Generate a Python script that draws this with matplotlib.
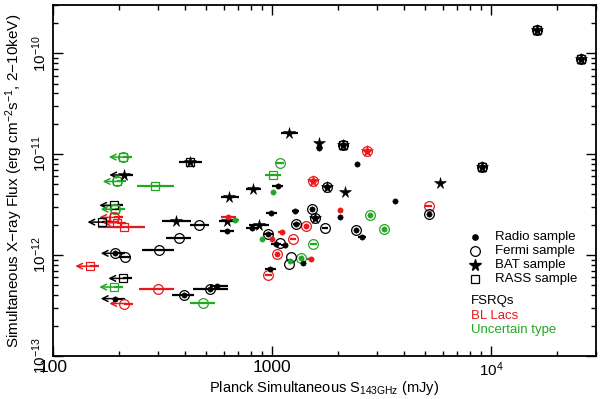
import matplotlib
matplotlib.use('Agg')
import matplotlib.pyplot as plt
from matplotlib.ticker import FixedLocator, NullFormatter

plt.rcParams['font.family'] = ['Liberation Sans', 'DejaVu Sans']
plt.rcParams['mathtext.fontset'] = 'custom'
plt.rcParams['mathtext.rm'] = 'Liberation Sans'
plt.rcParams['mathtext.it'] = 'Liberation Sans:italic'
plt.rcParams['mathtext.bf'] = 'Liberation Sans:bold'

# ---------------- data ----------------
# Planck 143 GHz flux (mJy), its error range, X-ray flux (erg cm^-2 s^-1)
s143 = [16200, 25500, 9100, 5840, 2100, 1640, 1630, 1190, 2710, 2440,
        1540, 1776, 2150, 3620, 2790, 3240, 5180, 5180, 2570, 2400,
        1516, 2037, 2037, 1570, 1740, 1431, 1537, 1500, 1387, 1350,
        1215, 1190, 1203, 1054, 1272, 1288, 984, 1105, 1245, 954,
        895, 1000, 1038, 1082, 1141, 977, 959, 870, 810, 1060,
        1005, 1086, 1005, 819, 636, 630, 619, 677, 624, 523,
        561, 396, 482, 301, 306, 375, 466, 366, 421, 293,
        209, 210, 196, 189, 192, 167, 189, 196, 210, 192,
        212, 147, 208, 189, 192, 210]
s143_lo = [16200, 25500, 9100, 5840, 2100, 1640, 1630, 1094, 2710, 2440,
           1540, 1776, 2150, 3620, 2790, 3240, 5000, 5180, 2470, 2400,
           1516, 2037, 2037, 1570, 1680, 1431, 1480, 1445, 1387, 1350,
           1215, 1190, 1203, 1054, 1225, 1240, 934, 1065, 1200, 905,
           895, 1000, 984, 1082, 1100, 924, 925, 781, 756, 1000,
           1005, 1045, 924, 756, 586, 586, 569, 652, 581, 437,
           523, 349, 421, 248, 255, 329, 421, 314, 375, 242,
           209, 210, 196, 189, 192, 167, 189, 196, 161, 192,
           200, 147, 208, 189, 192, 210]
s143_hi = [16200, 25500, 9100, 5840, 2100, 1640, 1630, 1309, 2710, 2440,
           1540, 1776, 2150, 3620, 2790, 3240, 5370, 5180, 2670, 2400,
           1516, 2037, 2037, 1570, 1800, 1431, 1595, 1555, 1387, 1350,
           1215, 1190, 1203, 1054, 1320, 1335, 1048, 1145, 1290, 1005,
           895, 1000, 1094, 1082, 1185, 1038, 995, 964, 868, 1125,
           1005, 1130, 1094, 893, 705, 681, 688, 703, 667, 626,
           626, 439, 547, 355, 358, 424, 514, 424, 479, 355,
           230, 232, 216, 208, 212, 184, 208, 216, 264, 212,
           226, 162, 229, 208, 212, 232]
fx = [1.70e-10, 8.8e-11, 7.5e-12, 5.2e-12, 1.24e-11, 1.28e-11, 1.15e-11, 1.63e-11, 1.07e-11, 7.97e-12,
      5.42e-12, 4.73e-12, 4.18e-12, 3.44e-12, 2.48e-12, 1.80e-12, 3.04e-12, 2.53e-12, 1.52e-12, 1.78e-12,
      2.85e-12, 2.81e-12, 2.40e-12, 2.32e-12, 1.87e-12, 1.95e-12, 1.28e-12, 9.24e-13, 8.34e-13, 9.34e-13,
      9.51e-13, 8.06e-13, 8.69e-13, 1.03e-12, 2.74e-12, 2.02e-12, 2.58e-12, 1.70e-12, 1.45e-12, 1.61e-12,
      1.44e-12, 1.45e-12, 1.30e-12, 1.33e-12, 1.25e-12, 7.28e-13, 6.28e-13, 2.00e-12, 1.85e-12, 4.81e-12,
      4.22e-12, 8.10e-12, 6.21e-12, 4.55e-12, 3.77e-12, 2.40e-12, 2.17e-12, 2.21e-12, 1.72e-12, 4.65e-13,
      4.90e-13, 3.99e-13, 3.33e-13, 4.65e-13, 1.13e-12, 1.48e-12, 2.00e-12, 2.15e-12, 8.4e-12, 4.79e-12,
      9.34e-12, 6.21e-12, 5.36e-12, 3.11e-12, 2.84e-12, 2.12e-12, 2.36e-12, 2.09e-12, 1.91e-12, 1.04e-12,
      9.51e-13, 7.76e-13, 5.87e-13, 4.82e-13, 3.70e-13, 3.31e-13]
# F = FSRQ, B = BL Lac, U = uncertain type
src_class = ['F', 'F', 'F', 'F', 'F', 'F', 'F', 'F', 'B', 'F',
             'B', 'F', 'F', 'F', 'U', 'U', 'B', 'F', 'F', 'F',
             'F', 'B', 'F', 'F', 'F', 'B', 'U', 'B', 'F', 'U',
             'F', 'F', 'U', 'B', 'F', 'F', 'F', 'B', 'B', 'F',
             'U', 'B', 'F', 'F', 'F', 'F', 'B', 'F', 'F', 'F',
             'U', 'U', 'U', 'F', 'F', 'B', 'F', 'U', 'F', 'F',
             'F', 'F', 'U', 'B', 'F', 'F', 'F', 'F', 'F', 'U',
             'U', 'F', 'U', 'F', 'U', 'F', 'B', 'B', 'B', 'F',
             'F', 'B', 'F', 'U', 'F', 'B']
# samples: R = Radio, F = Fermi, B = BAT, S = RASS
src_samples = ['RFBS', 'RFBS', 'RFBS', 'B', 'RFBS', 'B', 'R', 'B', 'RFB', 'R',
               'RFB', 'RFB', 'B', 'R', 'RF', 'RF', 'F', 'RF', 'R', 'RF',
               'RF', 'R', 'R', 'RFB', 'F', 'RF', 'F', 'R', 'R', 'RF',
               'F', 'F', 'R', 'RF', 'R', 'RF', 'R', 'R', 'F', 'RF',
               'R', 'R', 'R', 'F', 'R', 'R', 'F', 'B', 'R', 'R',
               'R', 'F', 'S', 'B', 'B', 'R', 'B', 'R', 'R', 'RF',
               'R', 'RF', 'F', 'F', 'F', 'F', 'F', 'B', 'BS', 'S',
               'SF', 'B', 'SF', 'S', 'SF', 'S', 'SF', 'S', 'S', 'RF',
               'F', 'S', 'S', 'S', 'R', 'F']
# 1 = Planck upper limit
upper_limit = [0] * 70 + [1, 1, 1, 1, 1, 1, 1, 1, 0, 1,
                          0, 1, 1, 1, 1, 1]

class_colors = {'F': 'black', 'B': '#e8191c', 'U': '#22a822'}

# ---------------- figure ----------------
fig = plt.figure(figsize=(6.0, 3.99), dpi=100)
ax = fig.add_axes([0.0883, 0.1078, 0.905, 0.8797])
ax.set_xscale('log')
ax.set_yscale('log')
ax.set_xlim(100, 30000)
ax.set_ylim(1e-13, 3e-10)

for i in range(len(s143)):
    c = class_colors[src_class[i]]
    x, y = s143[i], fx[i]
    if s143_hi[i] > s143_lo[i]:
        ax.plot([s143_lo[i], s143_hi[i]], [y, y], color=c, lw=1.6, zorder=2,
                solid_capstyle='butt')
    if upper_limit[i]:
        ax.annotate('', xy=(x * 0.86, y), xytext=(x * 1.02, y),
                    arrowprops=dict(arrowstyle='->', color=c, lw=1.1,
                                    mutation_scale=10, shrinkA=0, shrinkB=0),
                    zorder=3)
    smp = src_samples[i]
    if 'S' in smp:
        ax.plot(x, y, marker='s', ms=6, mfc='none', mec=c, mew=0.9, zorder=4)
    if 'F' in smp:
        ax.plot(x, y, marker='o', ms=7, mfc='none', mec=c, mew=0.9, zorder=5)
    if 'B' in smp:
        ax.plot(x, y, marker='*', ms=8.5, mfc=c, mec=c, mew=0.4, zorder=6)
    if 'R' in smp:
        ax.plot(x, y, marker='o', ms=3.8, mfc=c, mec=c, mew=0.4, zorder=7)

# ticks
ax.tick_params(which='both', direction='in', top=True, right=True, width=1.0)
ax.tick_params(which='major', length=7)
ax.tick_params(which='minor', length=3.5)
ax.xaxis.set_major_locator(FixedLocator([100, 1000, 10000]))
ax.set_xticklabels(['100', '1000', r'$10^4$'])
xlabs = ax.get_xticklabels()
xlabs[0].set_fontsize(12.5)
xlabs[1].set_fontsize(12.5)
xlabs[2].set_fontsize(11)
ax.xaxis.set_minor_locator(FixedLocator([m * 10 ** e for e in (2, 3, 4) for m in range(2, 10)]))
ax.xaxis.set_minor_formatter(NullFormatter())
ax.yaxis.set_major_locator(FixedLocator([1e-13, 1e-12, 1e-11, 1e-10]))
ax.set_yticklabels([r'$10^{-13}$', r'$10^{-12}$', r'$10^{-11}$', r'$10^{-10}$'],
                   rotation=90, va='center', fontsize=11)
ax.yaxis.set_minor_locator(FixedLocator([m * 10 ** e for e in (-13, -12, -11, -10) for m in range(2, 10)]))
ax.yaxis.set_minor_formatter(NullFormatter())
ax.tick_params(axis='x', pad=3)
ax.tick_params(axis='y', pad=3)
for sp in ax.spines.values():
    sp.set_linewidth(1.3)

ax.set_xlabel(r'Planck Simultaneous S$_{\mathrm{143GHz}}$ (mJy)', fontsize=10.5, labelpad=0)
ax.set_ylabel(r'Simultaneous X$-$ray Flux (erg cm$^{-2}$s$^{-1}$, 2$-$10keV)',
              fontsize=11, labelpad=4)

# legend (drawn manually)
leg_labels = ['Radio sample', 'Fermi sample', 'BAT sample', 'RASS sample']
leg_y = [0.339, 0.299, 0.259, 0.218]
ax.plot(0.777, leg_y[0], transform=ax.transAxes, marker='o', ms=3.8, color='black')
ax.plot(0.777, leg_y[1], transform=ax.transAxes, marker='o', ms=7, mfc='none', mec='black', mew=0.9)
ax.plot(0.777, leg_y[2], transform=ax.transAxes, marker='*', ms=8.5, color='black')
ax.plot(0.777, leg_y[3], transform=ax.transAxes, marker='s', ms=6, mfc='none', mec='black', mew=0.9)
for lab, yy in zip(leg_labels, leg_y):
    ax.text(0.8135, yy, lab, transform=ax.transAxes, fontsize=9.5, va='center', ha='left')
type_labels = ['FSRQs', 'BL Lacs', 'Uncertain type']
type_y = [0.158, 0.114, 0.074]
for lab, yy, cc in zip(type_labels, type_y, ['F', 'B', 'U']):
    ax.text(0.770, yy, lab, transform=ax.transAxes, fontsize=9.5, va='center',
            ha='left', color=class_colors[cc])

fig.savefig('out.png', dpi=100)
